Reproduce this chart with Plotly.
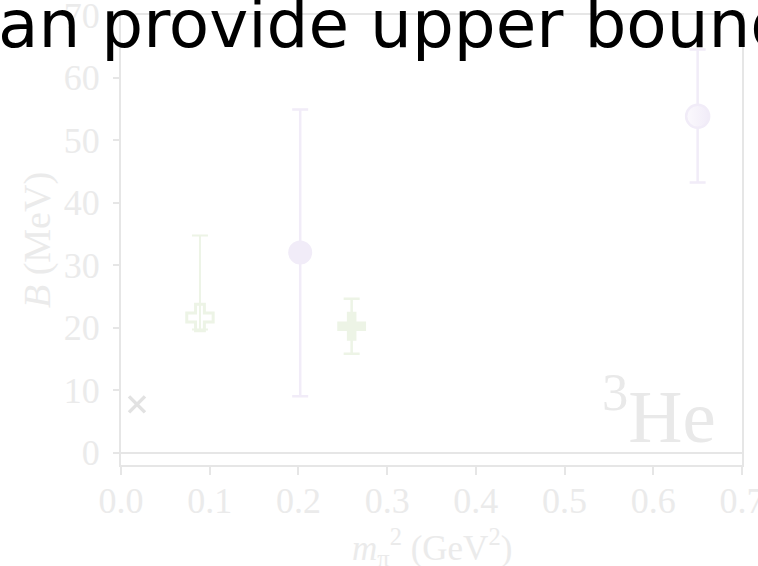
import plotly.graph_objects as go

# 3He binding energy vs squared pion mass
x_phys = [0.018]
b_phys = [7.7]

x_open_cross = [0.089]
b_open_cross = [21.6]
err_open_cross_up = [13.1]
err_open_cross_dn = [1.9]

x_circle = [0.202]
b_circle = [32.0]
err_circle_up = [22.9]
err_circle_dn = [23.0]

x_cross = [0.260]
b_cross = [20.2]
err_cross_up = [4.4]
err_cross_dn = [4.4]

x_half = [0.650]
b_half = [53.8]
err_half_up = [10.7]
err_half_dn = [10.6]

x_ticks = [0.0, 0.1, 0.2, 0.3, 0.4, 0.5, 0.6, 0.7]
y_ticks = [0, 10, 20, 30, 40, 50, 60, 70]

PURPLE = "#f1ecf8"
GREEN = "#edf4e6"
GRAY = "#e2e2e2"
AXIS = "#e6e6e6"
TEXT = "#ebebeb"
SERIF = "Liberation Serif"

fig = go.Figure()

fig.add_trace(go.Scatter(
    x=x_phys, y=b_phys, mode="markers",
    marker=dict(symbol="x-thin", size=16, line=dict(color=GRAY, width=3.5)),
))

fig.add_trace(go.Scatter(
    x=x_open_cross, y=b_open_cross, mode="markers",
    error_y=dict(type="data", symmetric=False, array=err_open_cross_up,
                 arrayminus=err_open_cross_dn, color=GREEN, thickness=2, width=8),
    marker=dict(symbol="cross-open", size=22, color=GREEN, line=dict(color=GREEN, width=3)),
))

fig.add_trace(go.Scatter(
    x=x_circle, y=b_circle, mode="markers",
    error_y=dict(type="data", symmetric=False, array=err_circle_up,
                 arrayminus=err_circle_dn, color=PURPLE, thickness=2.5, width=8),
    marker=dict(symbol="circle", size=24, color=PURPLE, line=dict(width=0)),
))

fig.add_trace(go.Scatter(
    x=x_cross, y=b_cross, mode="markers",
    error_y=dict(type="data", symmetric=False, array=err_cross_up,
                 arrayminus=err_cross_dn, color=GREEN, thickness=2.5, width=8),
    marker=dict(symbol="cross", size=24, color=GREEN, line=dict(width=0)),
))

fig.add_trace(go.Scatter(
    x=x_half, y=b_half, mode="markers",
    error_y=dict(type="data", symmetric=False, array=err_half_up,
                 arrayminus=err_half_dn, color=PURPLE, thickness=2.5, width=8),
    marker=dict(symbol="circle", size=23, color="#fbf9fd",
                gradient=dict(type="horizontal", color=PURPLE),
                line=dict(color=PURPLE, width=2.5)),
))

fig.add_annotation(
    xref="paper", yref="paper", x=0.962, y=0.012, xanchor="right", yanchor="bottom",
    text="<sup>3</sup>He", showarrow=False,
    font=dict(family=SERIF, size=75, color="#e9e9e9"),
)

# x-axis title placed as a paper-anchored label
fig.add_annotation(
    xref="paper", yref="paper", x=0.5, y=-0.183, xanchor="center", yanchor="middle",
    text="<i>m</i><sub>π</sub><sup>2</sup> (GeV<sup>2</sup>)", showarrow=False,
    font=dict(family=SERIF, size=35, color=TEXT),
)

fig.add_annotation(
    xref="paper", yref="paper", x=-0.2013, y=1.068, xanchor="left", yanchor="top",
    text="an provide upper bound", showarrow=False,
    font=dict(family="DejaVu Sans", size=66, color="black"),
)

axis_common = dict(
    showline=True, linecolor=AXIS, linewidth=2, mirror=True,
    ticks="outside", tickcolor=AXIS, tickwidth=2,
    showgrid=False, automargin=False, ticklabeloverflow="allow",
    tickfont=dict(family=SERIF, size=36, color=TEXT),
)

fig.update_xaxes(
    range=[0, 0.7], tickvals=x_ticks, ticktext=[f"{v:.1f}" for v in x_ticks],
    ticklen=8, zeroline=False, ticklabelstandoff=-5,
    **axis_common,
)
fig.update_yaxes(
    range=[-2, 70], tickvals=y_ticks, ticklen=6, ticklabelstandoff=6,
    zeroline=True, zerolinecolor=AXIS, zerolinewidth=2,
    title=dict(text="<i>B</i> (MeV)", font=dict(family=SERIF, size=38, color=TEXT), standoff=1),
    **axis_common,
)

fig.update_layout(
    width=758, height=566,
    margin=dict(l=121, r=16, t=15, b=101),
    plot_bgcolor="white", paper_bgcolor="white",
    showlegend=False,
)

fig.write_html("out.html")
